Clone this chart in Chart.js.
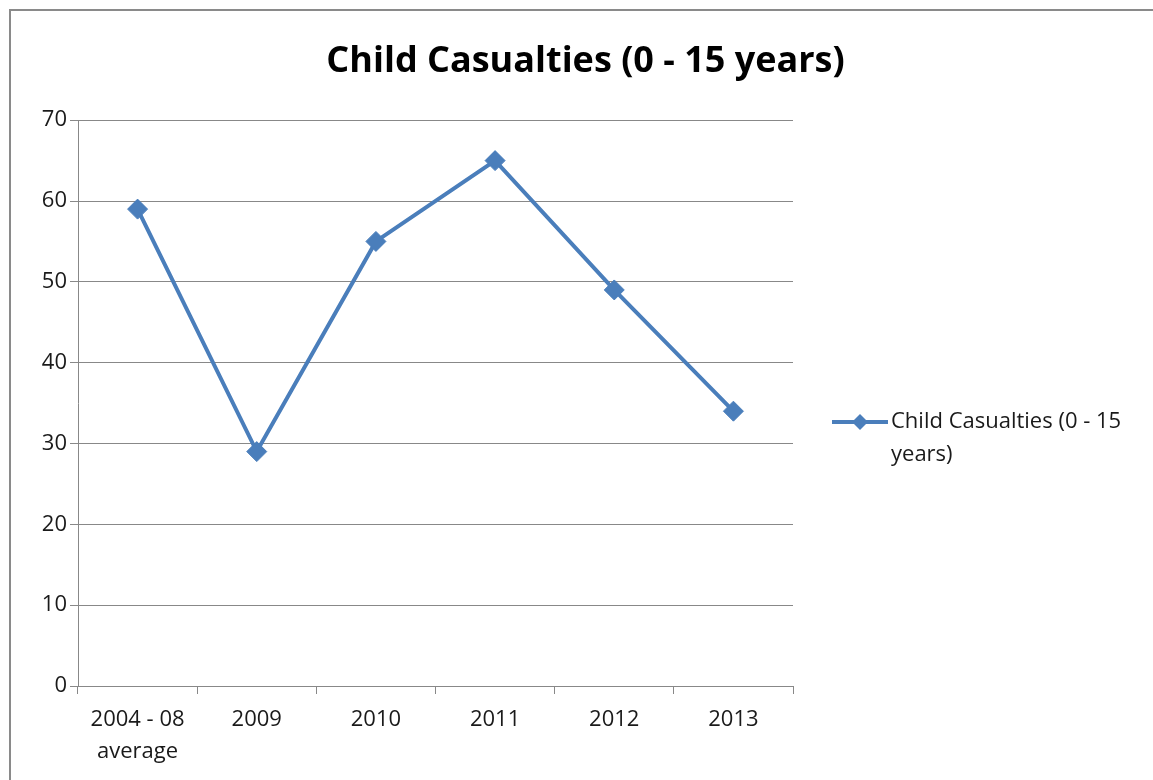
<!DOCTYPE html>
<html>
<head>
<meta charset="utf-8">
<script src="https://cdn.jsdelivr.net/npm/chart.js@4.4.1/dist/chart.umd.min.js"></script>
<style>
  html, body { margin: 0; padding: 0; background: #fff; }
  #wrap { position: relative; width: 1153px; height: 780px; overflow: hidden; }
  #frame { position: absolute; left: 9px; top: 9px; width: 1200px; height: 820px; border: 2px solid #8a8a8a; box-sizing: border-box; }
  #chart { position: absolute; left: 0; top: 0; }
</style>
</head>
<body>
<div id="wrap">
  <div id="frame"></div>
  <canvas id="chart" width="1153" height="780"></canvas>
</div>
<script>
const chartTitle = 'Child Casualties (0 - 15 years)';
const categories = [['2004 - 08', 'average'], '2009', '2010', '2011', '2012', '2013'];
const casualties = [59, 29, 55, 65, 49, 34];
const legendLines = ['Child Casualties (0 - 15', 'years)'];

const lineBlue = '#4a7ebb';
const fontFamily = '"Open Sans", Lato, sans-serif';

// legend drawn by hand so the label can wrap onto two lines
const sideLegend = {
    id: 'sideLegend',
    afterDraw(chart) {
        const ctx = chart.ctx;
        const x0 = 832, y0 = 422;
        ctx.save();
        ctx.strokeStyle = lineBlue;
        ctx.lineWidth = 4;
        ctx.beginPath();
        ctx.moveTo(x0, y0);
        ctx.lineTo(x0 + 56, y0);
        ctx.stroke();
        ctx.fillStyle = lineBlue;
        ctx.beginPath();
        ctx.moveTo(x0 + 28, y0 - 8);
        ctx.lineTo(x0 + 36, y0);
        ctx.lineTo(x0 + 28, y0 + 8);
        ctx.lineTo(x0 + 20, y0);
        ctx.closePath();
        ctx.fill();
        ctx.fillStyle = '#1a1a1a';
        ctx.font = '22px ' + fontFamily;
        ctx.textBaseline = 'middle';
        ctx.textAlign = 'left';
        legendLines.forEach((t, i) => ctx.fillText(t, x0 + 59, y0 + i * 33));
        ctx.restore();
    }
};

const chart = new Chart(document.getElementById('chart').getContext('2d'), {
    type: 'line',
    data: {
        labels: categories,
        datasets: [{
            label: chartTitle,
            data: casualties,
            borderColor: lineBlue,
            backgroundColor: lineBlue,
            borderWidth: 4,
            pointStyle: 'rectRot',
            pointRadius: 10,
            pointHoverRadius: 10,
            pointBorderWidth: 1,
            tension: 0
        }]
    },
    options: {
        responsive: false,
        animation: false,
        layout: { padding: { left: 18, right: 0, top: 0, bottom: 0 } },
        plugins: {
            legend: { display: false },
            tooltip: { enabled: false },
            title: {
                display: true,
                text: chartTitle,
                color: '#000',
                font: { family: fontFamily, size: 36, weight: 'bold' },
                padding: { top: 40, bottom: 37 }
            }
        },
        scales: {
            x: {
                offset: true,
                afterFit(scale) { scale.height = 94; },
                grid: {
                    offset: true,
                    drawOnChartArea: false,
                    color: '#888',
                    tickLength: 8
                },
                border: { color: '#888' },
                ticks: {
                    color: '#1a1a1a',
                    maxRotation: 0,
                    padding: 10,
                    font: { family: fontFamily, size: 22, lineHeight: 1.45 }
                }
            },
            y: {
                min: 0,
                max: 70,
                afterFit(scale) { scale.width = 60; },
                grid: { color: '#888', tickLength: 8 },
                border: { color: '#888' },
                ticks: {
                    stepSize: 10,
                    color: '#1a1a1a',
                    padding: 3,
                    font: { family: fontFamily, size: 22 }
                }
            },
            // empty axis on the right keeps room for the legend
            legendSpace: {
                type: 'linear',
                position: 'right',
                afterFit(scale) { scale.width = 360; },
                grid: { display: false },
                border: { display: false },
                ticks: { display: false }
            }
        }
    },
    plugins: [sideLegend]
});
</script>
</body>
</html>
